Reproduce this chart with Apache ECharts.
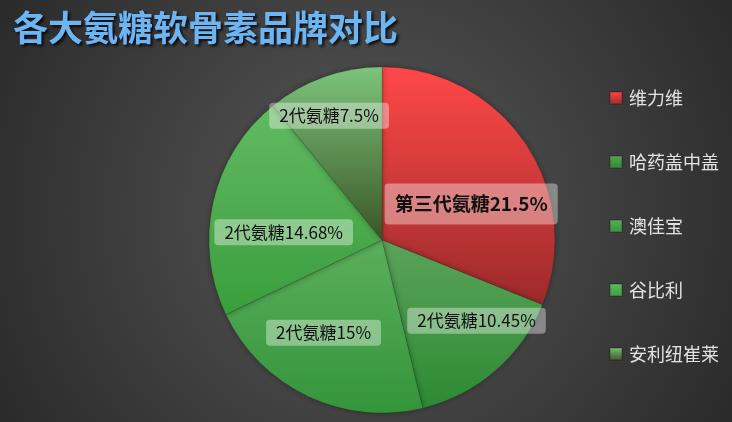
<!DOCTYPE html>
<html>
<head>
<meta charset="utf-8">
<script src="https://cdn.jsdelivr.net/npm/echarts@6/dist/echarts.min.js"></script>
<style>
html,body{margin:0;padding:0;background:#3a3a3a;}
#main{width:732px;height:422px;}
</style>
</head>
<body>
<div id="main"></div>
<script>
var titleText = '各大氨糖软骨素品牌对比';
var brands = ['维力维', '哈药盖中盖', '澳佳宝', '谷比利', '安利纽崔莱'];
var values = [21.5, 10.45, 15, 14.68, 7.5];
var labelPrefixes = ['第三代氨糖', '2代氨糖', '2代氨糖', '2代氨糖', '2代氨糖'];

var FONT = '"Noto Sans CJK SC", "Microsoft YaHei", sans-serif';
var gradients = [
  ['#ff4848', '#9c2a2a'],
  ['#5ba35b', '#2d8a33'],
  ['#5cae5c', '#33953a'],
  ['#62ba62', '#3a9e3c'],
  ['#7cc47c', '#3a5624']
];
var nudges = [[15, 14], [36, 13], [-20, 12], [-11, 12], [-23, -40]];

function grad(c) {
  return new echarts.graphic.LinearGradient(0, 0, 0, 1, [
    { offset: 0, color: c[0] },
    { offset: 1, color: c[1] }
  ]);
}

var pieData = brands.map(function (b, i) {
  var first = i === 0;
  return {
    name: b,
    value: values[i],
    itemStyle: { color: grad(gradients[i]) },
    label: {
      offset: nudges[i],
      fontSize: first ? 19 : 17,
      fontWeight: first ? 'bold' : 'normal',
      padding: first ? [12, 10, 10, 10] : [5, 10, 4, 10]
    }
  };
});

var chart = echarts.init(document.getElementById('main'), null, { renderer: 'canvas' });
chart.setOption({
  animation: false,
  backgroundColor: {
    type: 'radial', x: 0.5, y: 0.5, r: 1,
    colorStops: [
      { offset: 0, color: '#585858' },
      { offset: 1, color: '#2a2a2a' }
    ]
  },
  title: {
    text: titleText,
    left: 8,
    top: 5,
    textStyle: {
      fontFamily: FONT,
      fontSize: 35,
      fontWeight: 'bold',
      color: '#6bb5f5',
      textShadowColor: 'rgba(0,0,0,0.85)',
      textShadowBlur: 3,
      textShadowOffsetX: 2,
      textShadowOffsetY: 2
    }
  },
  legend: {
    orient: 'vertical',
    left: 604,
    top: 84,
    itemGap: 46,
    itemWidth: 12,
    itemHeight: 12,
    icon: 'rect',
    data: brands,
    textStyle: {
      fontFamily: FONT,
      fontSize: 18,
      lineHeight: 18,
      color: '#e2e2e2',
      padding: [0, 0, 0, 2]
    }
  },
  series: [{
    type: 'pie',
    center: [382, 240],
    radius: 173,
    startAngle: 90,
    clockwise: true,
    avoidLabelOverlap: false,
    itemStyle: {
      borderWidth: 0.6,
      borderColor: 'rgba(0,0,0,0.18)',
      shadowBlur: 6,
      shadowColor: 'rgba(0,0,0,0.35)'
    },
    label: {
      show: true,
      position: 'inside',
      fontFamily: FONT,
      color: '#111',
      backgroundColor: 'rgba(255,255,255,0.38)',
      borderRadius: 4,
      formatter: function (p) {
        return labelPrefixes[p.dataIndex] + p.value + '%';
      }
    },
    labelLine: { show: false },
    emphasis: { disabled: true },
    data: pieData
  }]
});
</script>
</body>
</html>
